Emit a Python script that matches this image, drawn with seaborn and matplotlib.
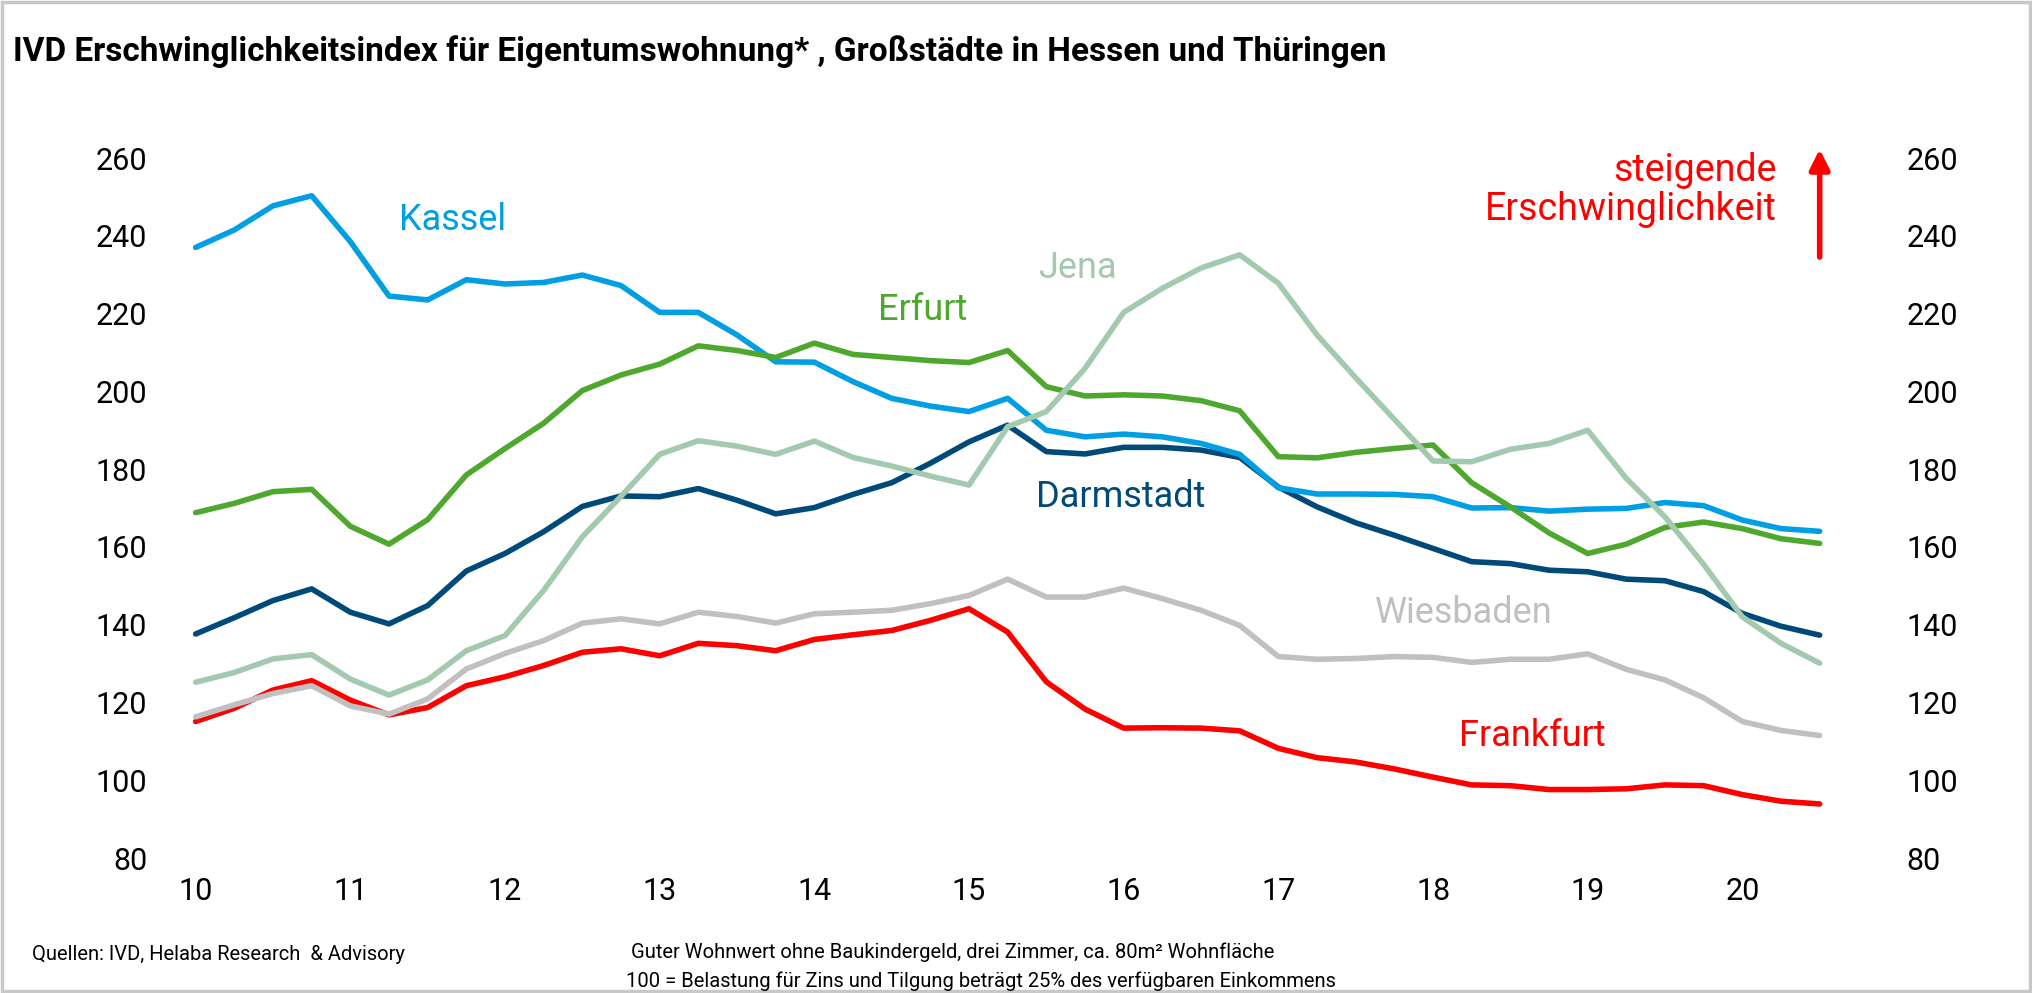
import numpy as np
import pandas as pd
import matplotlib
matplotlib.use("Agg")
import matplotlib.pyplot as plt
import seaborn as sns
from matplotlib.patches import Rectangle

# Quarterly index values, Q1 2010 .. Q3 2020
kassel = [237.0, 241.5, 247.7, 250.3, 238.5, 224.5, 223.5, 228.7, 227.6, 228.0,
          229.9, 227.2, 220.3, 220.3, 214.5, 207.6, 207.5, 202.5, 198.2, 196.2,
          194.8, 198.2, 190.0, 188.3, 189.0, 188.3, 186.6, 183.8, 175.2, 173.6,
          173.6, 173.5, 172.9, 170.0, 170.1, 169.2, 169.7, 169.9, 171.4, 170.6,
          166.9, 164.7, 164.0]
erfurt = [168.8, 171.2, 174.2, 174.8, 165.3, 160.7, 167.0, 178.5, 185.3, 191.8,
          200.2, 204.2, 207.0, 211.7, 210.5, 208.7, 212.4, 209.5, 208.7, 207.9,
          207.4, 210.5, 201.2, 198.8, 199.1, 198.8, 197.6, 195.0, 183.2, 182.9,
          184.3, 185.3, 186.2, 176.5, 170.3, 163.6, 158.3, 160.7, 165.0, 166.4,
          164.7, 162.1, 160.9]
darmstadt = [137.6, 141.8, 146.2, 149.2, 143.2, 140.2, 144.9, 153.8, 158.3, 163.9,
             170.4, 173.1, 172.9, 175.0, 172.0, 168.5, 170.1, 173.5, 176.5, 181.5,
             187.0, 191.3, 184.5, 183.9, 185.6, 185.6, 184.9, 183.0, 175.4, 170.3,
             166.2, 163.0, 159.6, 156.2, 155.7, 154.0, 153.6, 151.7, 151.3, 148.5,
             142.9, 139.6, 137.3]
jena = [125.2, 127.7, 131.2, 132.3, 126.0, 121.9, 125.8, 133.3, 137.2, 148.8,
        162.6, 173.0, 183.8, 187.3, 185.9, 183.8, 187.2, 183.0, 180.8, 178.2,
        175.9, 190.9, 194.8, 205.9, 220.3, 226.5, 231.7, 235.1, 227.8, 214.5,
        203.5, 192.8, 182.1, 181.9, 185.1, 186.6, 190.0, 177.6, 167.7, 155.5,
        142.0, 135.2, 130.1]
wiesbaden = [116.3, 119.4, 122.3, 124.3, 119.1, 117.0, 120.9, 128.6, 132.6, 135.9,
             140.4, 141.5, 140.2, 143.2, 142.1, 140.4, 142.8, 143.2, 143.7, 145.4,
             147.5, 151.7, 147.1, 147.1, 149.4, 146.7, 143.7, 139.8, 131.8, 131.1,
             131.3, 131.8, 131.6, 130.3, 131.1, 131.1, 132.5, 128.5, 125.8, 121.2,
             115.1, 112.8, 111.5]
frankfurt = [115.1, 118.5, 123.2, 125.6, 120.6, 116.8, 118.7, 124.3, 126.6, 129.5,
             132.9, 133.8, 132.0, 135.2, 134.6, 133.3, 136.2, 137.4, 138.5, 141.1,
             144.1, 138.1, 125.3, 118.3, 113.4, 113.5, 113.4, 112.7, 108.2, 105.8,
             104.7, 102.9, 100.8, 98.8, 98.6, 97.6, 97.6, 97.8, 98.8, 98.6,
             96.3, 94.6, 93.9]

years = [10, 11, 12, 13, 14, 15, 16, 17, 18, 19, 20]
y_ticks = [80, 100, 120, 140, 160, 180, 200, 220, 240, 260]

colors = {
    "Frankfurt": "#ff0000",
    "Wiesbaden": "#c0c0c0",
    "Darmstadt": "#004a7a",
    "Kassel": "#009fe3",
    "Erfurt": "#4fa82e",
    "Jena": "#a3c9af",
}
series = {"Frankfurt": frankfurt, "Wiesbaden": wiesbaden, "Darmstadt": darmstadt,
          "Kassel": kassel, "Erfurt": erfurt, "Jena": jena}

# quarter positions on the year axis
quarters = 10 + 0.25 * np.arange(len(kassel))
df = pd.concat([pd.DataFrame({"t": quarters, "wert": v, "stadt": k})
                for k, v in series.items()], ignore_index=True)

sns.set_style("white")
plt.rcParams["font.family"] = ["Roboto", "DejaVu Sans"]
plt.rcParams["text.color"] = "black"
plt.rcParams["xtick.color"] = "black"
plt.rcParams["ytick.color"] = "black"

fig = plt.figure(figsize=(20.32, 9.93), dpi=100)
ax = fig.add_axes([157 / 2032, 135 / 993, 1740 / 2032, 700 / 993])

sns.lineplot(data=df, x="t", y="wert", hue="stadt", hue_order=list(series.keys()),
             palette=colors, linewidth=4.0, legend=False, ax=ax)
for line in ax.get_lines():
    line.set_solid_capstyle("round")

ax.set_xlim(9.75, 21.0)
ax.set_ylim(80, 260)
ax.set_xticks(years)
ax.set_xticklabels([str(y) for y in years])
ax.set_yticks(y_ticks)
ax.set_xlabel("")
ax.set_ylabel("")
ax.tick_params(axis="y", labelsize=22, length=0, pad=7, labelright=True)
ax.tick_params(axis="x", labelsize=22, length=0, pad=14)
for s in ax.spines.values():
    s.set_visible(False)
ax.grid(False)

# direct labels
lab_kw = dict(fontsize=26, ha="center", va="center")
ax.text(11.66, 244.1, "Kassel", color=colors["Kassel"], **lab_kw)
ax.text(14.70, 220.9, "Erfurt", color=colors["Erfurt"], **lab_kw)
ax.text(15.70, 231.7, "Jena", color=colors["Jena"], **lab_kw)
ax.text(15.98, 172.8, "Darmstadt", color=colors["Darmstadt"], **lab_kw)
ax.text(18.20, 142.9, "Wiesbaden", color=colors["Wiesbaden"], **lab_kw)
ax.text(18.64, 111.4, "Frankfurt", color=colors["Frankfurt"], **lab_kw)

ax.text(20.22, 251.8, "steigende\nErschwinglichkeit", color="red", fontsize=27,
        ha="right", va="center", multialignment="right", linespacing=1.05)
ax.annotate("", xy=(20.5, 263.0), xytext=(20.5, 233.8), annotation_clip=False,
            arrowprops=dict(arrowstyle="-|>", color="red", lw=4, mutation_scale=30))

fig.text(13 / 2032, 1 - 52 / 993,
         "IVD Erschwinglichkeitsindex für Eigentumswohnung* , Großstädte in Hessen und Thüringen",
         fontsize=24, fontweight="bold", ha="left", va="center")
fig.text(32 / 2032, 1 - 954 / 993, "Quellen: IVD, Helaba Research  & Advisory",
         fontsize=14.5, ha="left", va="center")
fig.text(631 / 2032, 1 - 952 / 993,
         "Guter Wohnwert ohne Baukindergeld, drei Zimmer, ca. 80m² Wohnfläche",
         fontsize=14.5, ha="left", va="center")
fig.text(626 / 2032, 1 - 981 / 993,
         "100 = Belastung für Zins und Tilgung beträgt 25% des verfügbaren Einkommens",
         fontsize=14.5, ha="left", va="center")

fig.patches.append(Rectangle((0.001, 0.002), 0.998, 0.996, transform=fig.transFigure,
                             fill=False, edgecolor="#c8c8c8", linewidth=2.5))

fig.savefig("out.png", dpi=100)
